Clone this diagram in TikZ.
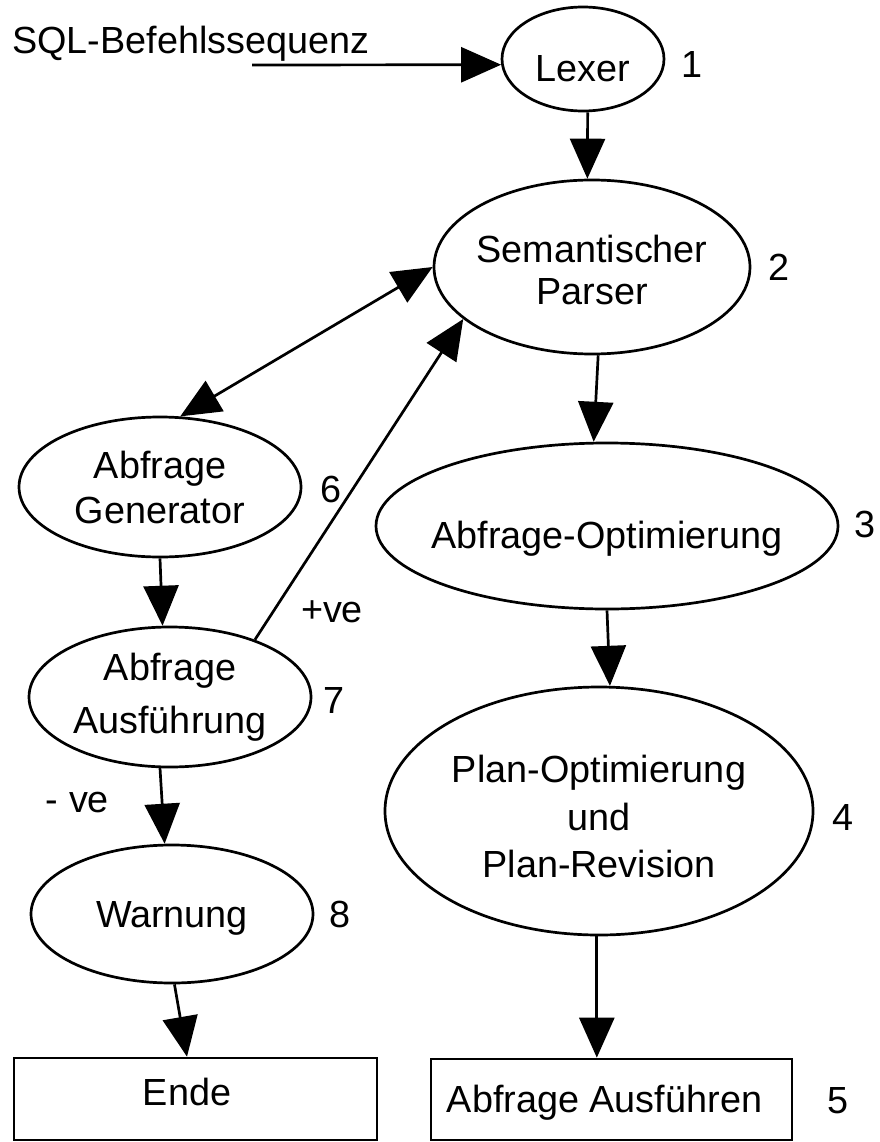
\documentclass[tikz,border=0pt]{standalone}
\usepackage{fontspec}
\setmainfont{Liberation Sans}
\usetikzlibrary{shapes.geometric,arrows.meta}
\begin{document}
\begin{tikzpicture}[x=1pt,y=-1pt,
  every node/.style={font=\fontsize{37.8pt}{46pt}\selectfont, inner sep=0pt},
  lead/.style={font=\fontsize{37.8pt}{#1}\selectfont},
  proc/.style={ellipse, draw, line width=2.7pt, align=center},
  endbox/.style={rectangle, draw, line width=2.7pt},
  num/.style={anchor=base},
  flow/.style={line width=2.7pt, -{Triangle[length=40pt,width=35pt]}},
  twoway/.style={line width=2.7pt,
    {Triangle[length=40pt,width=35pt]}-{Triangle[length=40pt,width=35pt]}}]
  \useasboundingbox (0,0) rectangle (879,1142);

  % processing steps (wide labels get a negative inner xsep so the
  % ellipse keeps its minimum size)
  \node[proc, minimum width=162pt, minimum height=104pt,
        text height=46pt, text depth=0pt] (lexer) at (583,59) {Lexer};
  \node[proc, lead=42pt, inner xsep=-20pt, minimum width=316pt, minimum height=174pt]
        (parser) at (592,267) {\rule{0pt}{34pt}Semantischer\\Parser};
  \node[proc, inner xsep=-20pt, minimum width=462pt, minimum height=166pt,
        text height=44pt, text depth=0pt] (opt) at (607,526) {Abfrage-Optimierung};
  \node[proc, lead=47.5pt, minimum width=428pt, minimum height=248pt] (plan) at (599,811)
        {\rule{0pt}{39pt}Plan-Optimierung\\und\\Plan-Revision};
  \node[proc, lead=45pt, minimum width=282pt, minimum height=140pt] (gen) at (160,487)
        {Abfrage\\Generator};
  \node[proc, lead=53pt, minimum width=282pt, minimum height=140pt] (exec) at (170,697)
        {Abfrage\\Ausführung};
  \node[proc, minimum width=282pt, minimum height=138pt,
        text height=26pt, text depth=0pt] (warn) at (172,914) {Warnung};

  % final states
  \node[endbox, minimum width=363pt, minimum height=82pt,
        text height=12pt, text depth=0pt] (ende) at (195.5,1099) {\kern-17pt Ende};
  \node[endbox, minimum width=361pt, minimum height=81pt,
        text height=25pt, text depth=0pt] (run) at (611.5,1099.5) {\kern-14pt Abfrage Ausführen};

  % input
  \node[anchor=base west] (sql) at (12,54) {SQL-Befehlssequenz};
  \coordinate (in) at (252,65);

  % step numbers
  \node[num] (n1) at (692,78)   {1};
  \node[num] (n2) at (779,280)  {2};
  \node[num] (n3) at (865,537)  {3};
  \node[num] (n4) at (843,830)  {4};
  \node[num] (n5) at (838,1113) {5};
  \node[num] (n6) at (331,502)  {6};
  \node[num] (n7) at (334,713)  {7};
  \node[num] (n8) at (340,927)  {8};

  % branch labels
  \node[num] (pos) at (332,622)  {+ve};
  \node[num] (neg) at (77.5,812) {- ve};

  % connectors
  \draw[flow] (in) -- (lexer.184);
  \draw[flow] (lexer.275) -- (parser.93);
  \draw[flow] (parser.274) -- (opt.99);
  \draw[flow] (opt.south) -- (plan.85);
  \draw[flow] (plan.269) -- (plan.269 |- run.north);
  \draw[twoway] (parser.180) -- (gen.74);
  \draw[flow] (exec.34) -- (parser.202);
  \draw[flow] (gen.south) -- (exec.96);
  \draw[flow] (exec.262) -- (warn.96);
  \draw[flow] (warn.272) -- ([xshift=-8.5pt]ende.north);
\end{tikzpicture}
\end{document}
